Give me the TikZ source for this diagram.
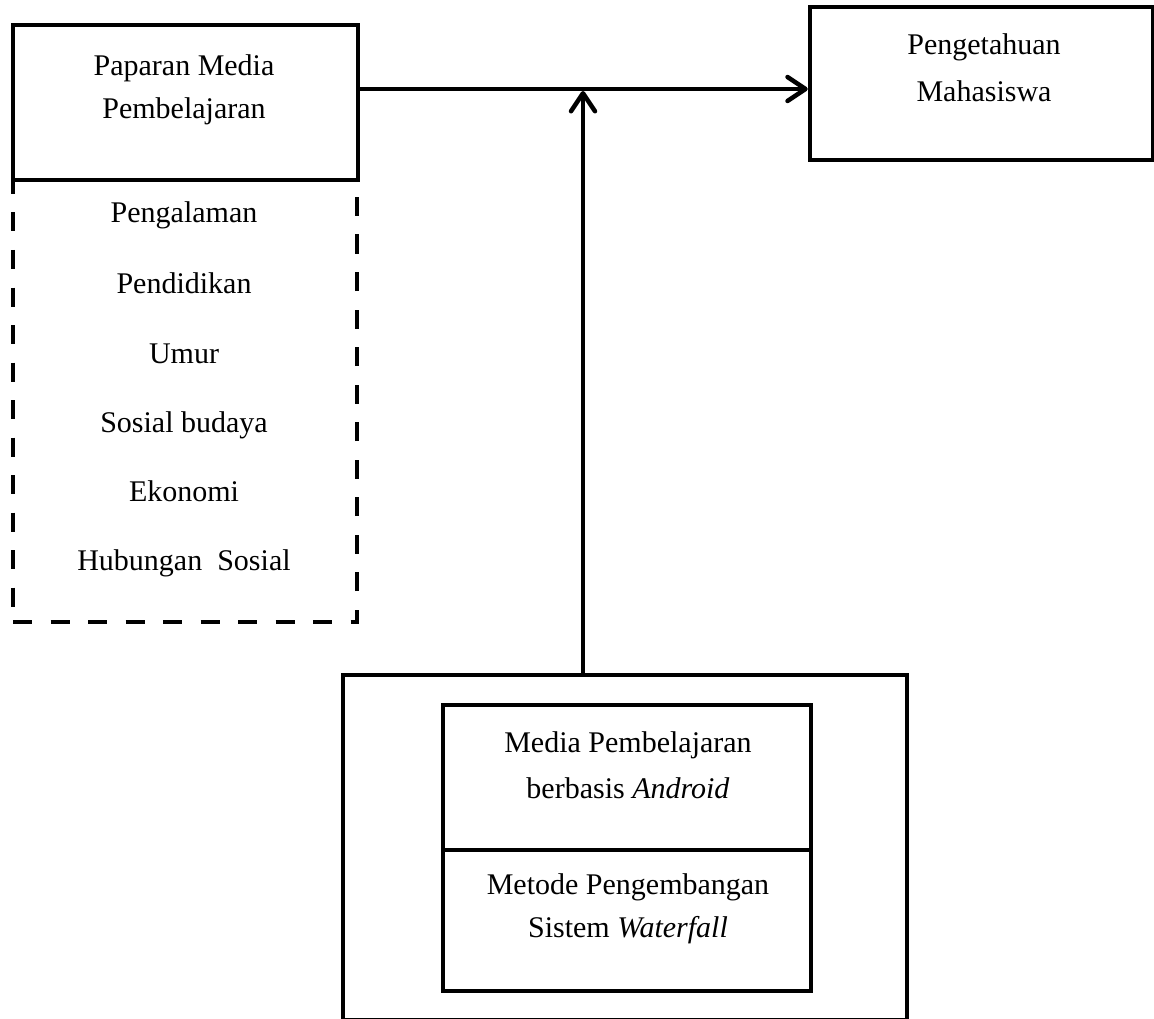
\documentclass[tikz,border=0pt]{standalone}
\usepackage{fontspec}
\setmainfont{Liberation Serif}
\usetikzlibrary{arrows.meta}
\begin{document}
\begin{tikzpicture}[x=1pt,y=-1pt,
  box/.style={draw, line width=4.5pt, rectangle, inner sep=0pt},
  dbox/.style={draw, line width=4.5pt, dash pattern=on 19pt off 18.5pt, rectangle, inner sep=0pt},
  txt/.style={align=center, inner sep=0pt},
  item/.style={anchor=base, inner sep=0pt, font=\fontsize{30}{36}\selectfont},
  arr/.style={line width=4.5pt, -{Straight Barb[length=18pt,width=24pt,round]}}
]
\useasboundingbox (0,0) rectangle (1154,1019);
\clip (0,0) rectangle (1154,1019);

% dashed factor box
\node[dbox, minimum width=344pt, minimum height=442pt] (fac) at (185,401) {};
% boxes
\node[box, minimum width=345pt, minimum height=155pt] (pm) at (185.5,102.5) {};
\node[box, minimum width=343pt, minimum height=153pt] (pk) at (981.5,83.5) {};
\node[box, minimum width=564pt, minimum height=345.5pt] (outer) at (625,847.75) {};
\node[box, minimum width=368pt, minimum height=145pt] (ia) at (627,777.5) {};
\node[box, minimum width=368pt, minimum height=141pt] (ib) at (627,920.5) {};

% texts
\node[txt, font=\fontsize{30}{43}\selectfont] (pmt) at (184,89.5) {Paparan Media\\Pembelajaran};
\node[txt, font=\fontsize{30}{47}\selectfont] (pkt) at (984,68) {Pengetahuan\\Mahasiswa};
\node[txt, font=\fontsize{30}{46}\selectfont] (iat) at (628,765) {Media Pembelajaran\\berbasis \textit{Android}};
\node[txt, font=\fontsize{30}{43}\selectfont] (ibt) at (628,909) {Metode Pengembangan\\Sistem \textit{Waterfall}};

\node[item] (f1) at (184,223) {Pengalaman};
\node[item] (f2) at (184,293) {Pendidikan};
\node[item] (f3) at (184,363) {Umur};
\node[item] (f4) at (184,432) {Sosial budaya};
\node[item] (f5) at (184,501) {Ekonomi};
\node[item] (f6) at (184,570) {Hubungan\ \ Sosial};

% connectors
\coordinate (h) at (583,89);
\draw[arr] (pm.east |- h) -- (pk.west |- h);
\draw[arr] (outer.north -| h) -- ([yshift=-2pt]h);
\end{tikzpicture}
\end{document}
